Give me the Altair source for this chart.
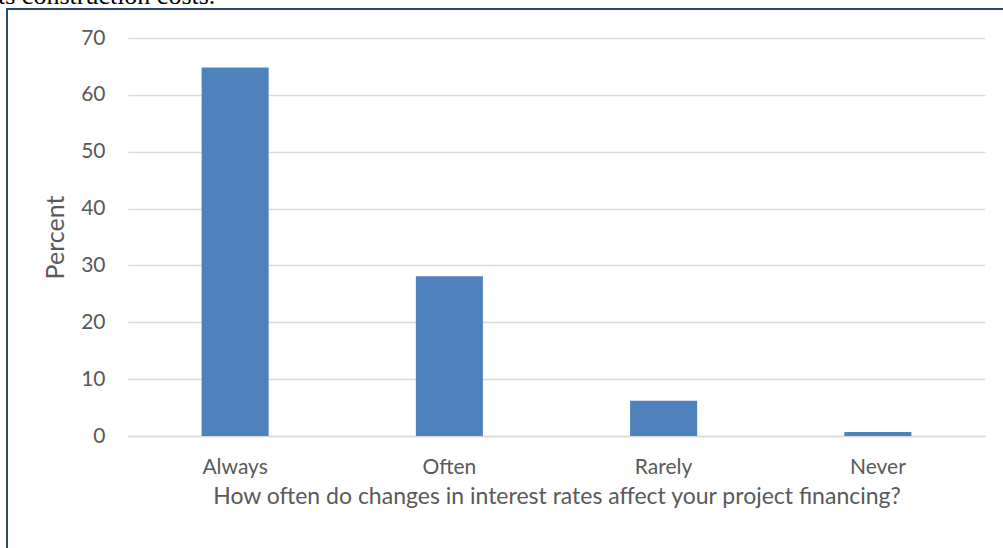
import altair as alt
import pandas as pd

# Survey responses: share of respondents per answer
categories = ["Always", "Often", "Rarely", "Never"]
percent = [64.8, 28.1, 6.2, 0.7]
y_ticks = [0, 10, 20, 30, 40, 50, 60, 70]

x_title = "How often do changes in interest rates affect your project financing?"
y_title = "Percent"
caption_tail = "ts construction costs."

df = pd.DataFrame({"answer": categories, "percent": percent})

TEXT = "#595959"
GRID = "#d9d9d9"
FONT = "Lato"

bars = alt.Chart(df).mark_bar(color="#4f81bd").encode(
    x=alt.X(
        "answer:N",
        sort=categories,
        scale=alt.Scale(paddingInner=0.687, paddingOuter=0.3435),
        axis=alt.Axis(
            title=x_title,
            labelAngle=0,
            ticks=False,
            domainColor=GRID,
            domainWidth=1.5,
            labelFont=FONT,
            labelFontSize=21,
            labelColor=TEXT,
            labelPadding=20,
            titleFont=FONT,
            titleFontSize=23,
            titleFontWeight="normal",
            titleColor=TEXT,
            titlePadding=8,
        ),
    ),
    y=alt.Y(
        "percent:Q",
        scale=alt.Scale(domain=[0, 70], nice=False),
        axis=alt.Axis(
            title=y_title,
            values=y_ticks,
            ticks=False,
            domain=False,
            grid=True,
            gridColor=GRID,
            gridWidth=1.5,
            labelFont=FONT,
            labelFontSize=21,
            labelColor=TEXT,
            labelPadding=23,
            titleFont=FONT,
            titleFontSize=25,
            titleFontWeight="normal",
            titleColor=TEXT,
            titlePadding=12,
        ),
    ),
)

# Frame around the figure (runs off the right and bottom edges)
frame = alt.Chart(pd.DataFrame({"k": [0]})).mark_rect(
    fill=None, stroke="#2c4770", strokeWidth=2
).encode(
    x=alt.value(-121),
    x2=alt.value(900),
    y=alt.value(-29),
    y2=alt.value(560),
)

# Tail of the preceding sentence in the document
caption = alt.Chart(pd.DataFrame({"k": [0]})).mark_text(
    align="left",
    baseline="alphabetic",
    font="Liberation Serif",
    fontSize=26,
    color="#000000",
).encode(
    x=alt.value(-130),
    y=alt.value(-34),
    text=alt.value(caption_tail),
)

chart = (
    alt.layer(frame, bars, caption)
    .properties(
        width=857,
        height=398,
        autosize=alt.AutoSizeParams(type="none"),
        padding={"left": 128, "top": 38, "right": 18, "bottom": 112},
        background="white",
    )
    .configure_view(stroke=None)
)

chart.save("out.html", embed_options={"renderer": "svg", "actions": False})
